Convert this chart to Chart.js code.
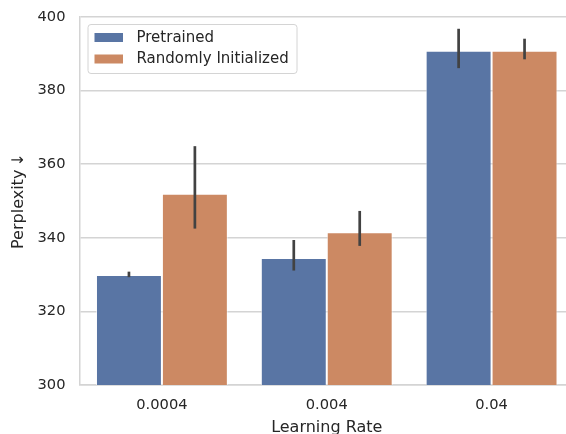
<!DOCTYPE html>
<html>
<head>
<meta charset="utf-8">
<script src="https://cdn.jsdelivr.net/npm/chart.js@4/dist/chart.umd.min.js"></script>
<style>
  html, body { margin: 0; padding: 0; background: #ffffff; overflow: hidden; }
  #wrap { width: 584px; height: 440px; }
</style>
</head>
<body>
<div id="wrap"><canvas id="canvas"></canvas></div>
<script>
"use strict";

const learning_rates = ["0.0004", "0.004", "0.04"];
const pretrained_mean = [329.9, 334.5, 390.8];
const pretrained_low = [329.3, 331.1, 386.1];
const pretrained_high = [330.8, 339.4, 396.8];
const random_mean = [352.0, 341.5, 390.8];
const random_low = [342.5, 337.8, 388.5];
const random_high = [364.9, 347.3, 394.1];
const y_ticks = [300, 320, 340, 360, 380, 400];

const text_color = "#262626";
const grid_color = "#d4d4d4";
const font_family = "'DejaVu Sans', sans-serif";

// seaborn style error bars
const errorBars = {
  id: "errorBars",
  afterDatasetsDraw(chart) {
    const { ctx, scales } = chart;
    ctx.save();
    ctx.strokeStyle = "#424242";
    ctx.lineWidth = 2.7;
    chart.data.datasets.forEach((ds, i) => {
      const meta = chart.getDatasetMeta(i);
      meta.data.forEach((bar, j) => {
        const y1 = scales.y.getPixelForValue(ds.errLow[j]);
        const y2 = scales.y.getPixelForValue(ds.errHigh[j]);
        ctx.beginPath();
        ctx.moveTo(bar.x, y1);
        ctx.lineTo(bar.x, y2);
        ctx.stroke();
      });
    });
    ctx.restore();
  },
};

// legend with a box, inside the plot, top left
const boxLegend = {
  id: "boxLegend",
  afterDraw(chart) {
    const { ctx, chartArea } = chart;
    const x0 = chartArea.left + 8.5;
    const y0 = chartArea.top + 7.5;
    const w = 209;
    const h = 49;
    ctx.save();
    ctx.fillStyle = "rgba(255,255,255,0.8)";
    ctx.strokeStyle = "#d4d4d4";
    ctx.lineWidth = 1;
    ctx.beginPath();
    ctx.roundRect(x0, y0, w, h, 3);
    ctx.fill();
    ctx.stroke();
    ctx.font = "15px " + font_family;
    ctx.textBaseline = "middle";
    ctx.fillStyle = text_color;
    chart.data.datasets.forEach((ds, i) => {
      const cy = y0 + 13 + i * 21.5;
      ctx.fillStyle = ds.backgroundColor;
      ctx.fillRect(x0 + 6.5, cy - 4.5, 28.5, 9);
      ctx.fillStyle = text_color;
      ctx.fillText(ds.label, x0 + 48.5, cy + 0.5);
    });
    ctx.restore();
  },
};

const data = {
  labels: learning_rates,
  datasets: [
    {
      label: "Pretrained",
      data: pretrained_mean,
      errLow: pretrained_low,
      errHigh: pretrained_high,
      backgroundColor: "#5975a4",
      borderColor: "rgba(255,255,255,0.6)",
      borderWidth: 1,
      categoryPercentage: 0.8,
      barPercentage: 1.0,
    },
    {
      label: "Randomly Initialized",
      data: random_mean,
      errLow: random_low,
      errHigh: random_high,
      backgroundColor: "#cc8963",
      borderColor: "rgba(255,255,255,0.6)",
      borderWidth: 1,
      categoryPercentage: 0.8,
      barPercentage: 1.0,
    },
  ],
};

const chart = new Chart(document.getElementById("canvas"), {
  type: "bar",
  data: data,
  plugins: [errorBars, boxLegend],
  options: {
    responsive: true,
    maintainAspectRatio: false,
    animation: false,
    layout: { padding: { top: 17, left: 0, right: 10, bottom: 0 } },
    plugins: {
      legend: { display: false },
      tooltip: { enabled: false },
    },
    scales: {
      x: {
        afterFit: (scale) => {
          scale.height = 55;
        },
        grid: { display: false, drawTicks: false },
        border: { color: grid_color, width: 1.5 },
        ticks: {
          color: text_color,
          font: { family: font_family, size: 14.67 },
          padding: 11,
        },
        title: {
          display: true,
          text: "Learning Rate",
          color: text_color,
          font: { family: font_family, size: 16 },
          padding: { top: 3, bottom: 3 },
        },
      },
      y: {
        min: 300,
        max: 400,
        afterBuildTicks: (scale) => {
          scale.ticks = y_ticks.map((v) => ({ value: v }));
        },
        afterFit: (scale) => {
          scale.width = 79.5;
          scale.paddingTop = 0;
          scale.paddingBottom = 0;
        },
        grid: { color: grid_color, lineWidth: 1.5, drawTicks: false },
        border: { color: grid_color, width: 1.5 },
        ticks: {
          color: text_color,
          font: { family: font_family, size: 14.67 },
          padding: 14,
        },
        title: {
          display: true,
          text: "Perplexity\u2009↓",
          color: text_color,
          font: { family: font_family, size: 16 },
          padding: { top: 9, bottom: 0 },
        },
      },
    },
  },
});
</script>
</body>
</html>
